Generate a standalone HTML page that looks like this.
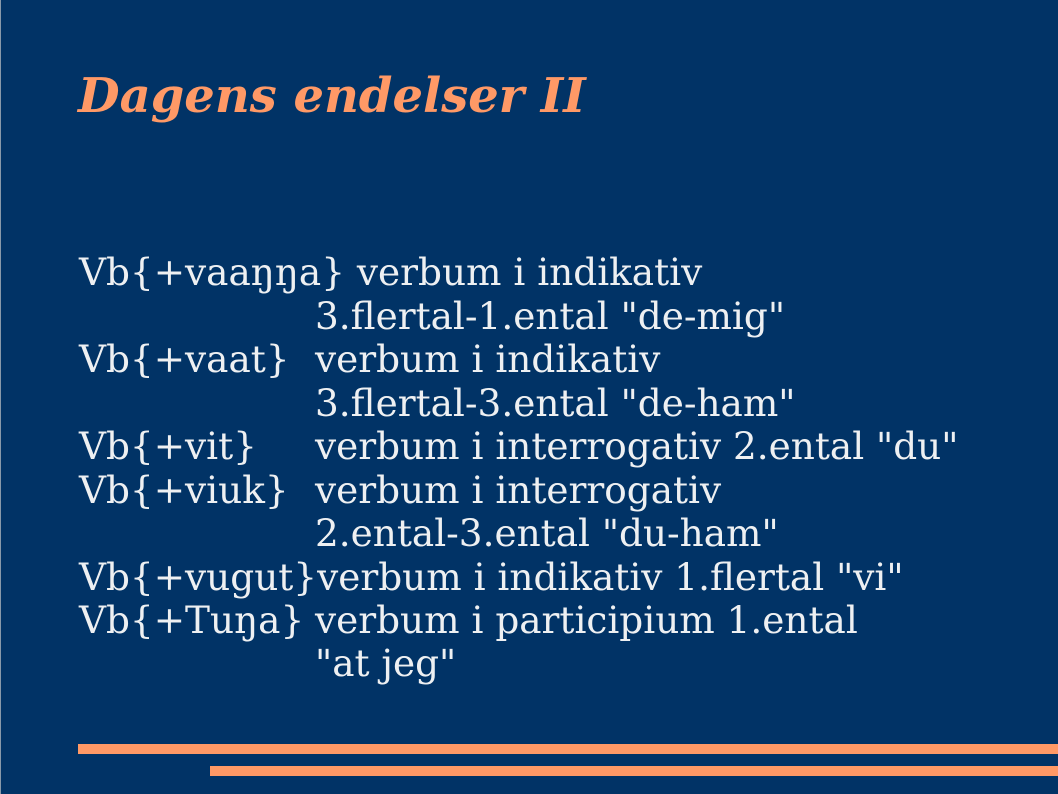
<!DOCTYPE html>
<html><head><meta charset="utf-8"><style>
html,body{margin:0;padding:0}
body{width:1058px;height:794px;background:#013366;position:relative;overflow:hidden;border-left:1px solid #8899aa;box-sizing:border-box}
.t{position:absolute;left:77px;top:68px;font-family:"DejaVu Serif",serif;font-weight:bold;font-style:italic;font-size:48px;color:#ff9966;white-space:nowrap}
.l{position:absolute;font-family:"DejaVu Serif",serif;font-size:37.4px;color:#eef0f2;white-space:pre;line-height:40px}
.bar{position:absolute;background:#ff9966;right:0}
</style></head><body>
<div class="t">Dagens endelser II</div>
<div class="l" style="left:78px;top:252px">Vb{+vaaŋŋa} verbum i indikativ</div>
<div class="l" style="left:314px;top:296px">3.flertal-1.ental "de-mig"</div>
<div class="l" style="left:78px;top:339px">Vb{+vaat}</div>
<div class="l" style="left:314px;top:339px">verbum i indikativ</div>
<div class="l" style="left:314px;top:383px">3.flertal-3.ental "de-ham"</div>
<div class="l" style="left:78px;top:426px">Vb{+vit}</div>
<div class="l" style="left:314px;top:426px">verbum i interrogativ 2.ental "du"</div>
<div class="l" style="left:78px;top:470px">Vb{+viuk}</div>
<div class="l" style="left:314px;top:470px">verbum i interrogativ</div>
<div class="l" style="left:314px;top:513px">2.ental-3.ental "du-ham"</div>
<div class="l" style="left:78px;top:557px">Vb{+vugut}verbum i indikativ 1.flertal "vi"</div>
<div class="l" style="left:78px;top:600px">Vb{+Tuŋa}</div>
<div class="l" style="left:314px;top:600px">verbum i participium 1.ental</div>
<div class="l" style="left:314px;top:643px">"at jeg"</div>
<div class="bar" style="left:77px;top:744px;height:10px"></div>
<div class="bar" style="left:209px;top:766px;height:10px"></div>
</body></html>
